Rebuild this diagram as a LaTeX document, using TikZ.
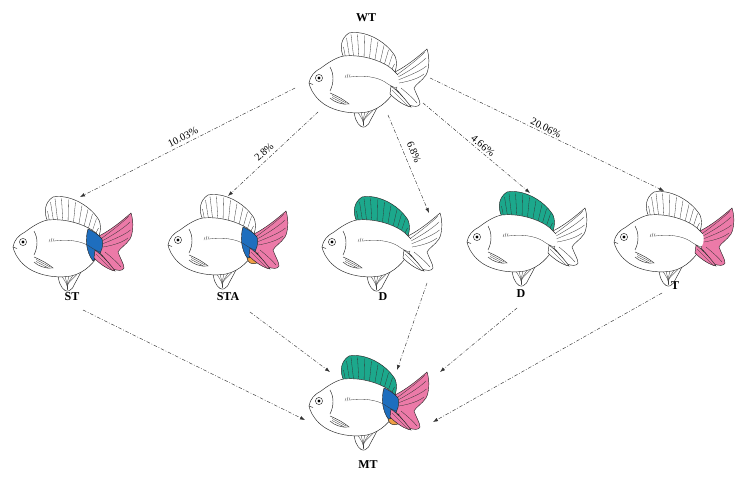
\documentclass[tikz,border=0pt]{standalone}
\usepackage{fontspec}
\setmainfont{Liberation Serif}
\usetikzlibrary{arrows.meta}
\definecolor{fgreen}{RGB}{28,168,140}
\definecolor{fblue}{RGB}{30,110,190}
\definecolor{fpink}{RGB}{236,122,168}
\definecolor{forange}{RGB}{240,160,70}
\tikzset{
  fishline/.style={line width=0.45pt, draw=black!85},
  rayline/.style={line width=0.3pt, draw=black!80},
  dorsalfill/.style={fill=white},
  tailfill/.style={fill=white},
  bandpaint/.style={},
  orangepaint/.style={},
  flow/.style={-{Latex[length=5pt,width=3.6pt]}, line width=0.45pt,
    dash pattern=on 3.5pt off 1.8pt on 0.8pt off 1.8pt, draw=black!80},
  fishlab/.style={font=\fontsize{12}{12}\selectfont\bfseries, inner sep=0pt},
  pctlab/.style={font=\fontsize{10.5}{10.5}\selectfont, inner sep=0pt},
  pics/fish/.style={code={
    % pelvic fin (fan narrowing downwards)
    \draw[fishline,fill=white] (35,31) .. controls (35,39) and (38,46) .. (42,48.5)
       .. controls (45,50) and (48,48.5) .. (49.5,46) .. controls (52,41) and (55,36) .. (58,30) -- cycle;
    \foreach \c/\d in {38/33, 42/34, 46/34, 50/33.5, 54/32.5}
      \draw[rayline] (44.5,47.5) .. controls (44,42) .. (\c,\d);
    % dorsal fin
    \draw[fishline,dorsalfill] (25,-20) .. controls (20,-30) and (22,-40) .. (30,-45)
       .. controls (45,-48) and (66,-38) .. (76,-22) .. controls (78,-17) and (78,-12) .. (76,-6) -- cycle;
    \foreach \a/\b/\c/\d in {27/-18/24.5/-31, 31/-18/27.5/-40, 35/-18/32/-43.5, 40/-18/38.5/-43.7,
       45/-17/45.5/-42.5, 50/-15/52.5/-40, 55/-13/59/-36.5, 60/-11/65/-32.5, 64/-9/69.5/-28,
       68/-7/73.5/-23.5, 71/-5/75.5/-14}
      \draw[rayline] (\a,\b) -- (\c,\d);
    % tail
    \draw[fishline,tailfill] (76,-6) .. controls (88,-12) and (100,-22) .. (108,-29)
       .. controls (111,-20) and (110,-8) .. (107,-3) .. controls (103,3) and (97,6) .. (95,10)
       .. controls (97,16) and (101,22) .. (101,26) .. controls (100,29) and (95,29) .. (90,27)
       .. controls (85,20) and (80,14) .. (76,10) -- cycle;
    \draw[rayline] (79,-4) .. controls (90,-12) and (100,-20) .. (106,-26);
    \draw[rayline] (79,-1) .. controls (92,-8) and (102,-15) .. (107,-20);
    \draw[rayline] (79,2) .. controls (92,-3) and (103,-8) .. (107.5,-12);
    \draw[rayline] (80,5) .. controls (92,3) and (100,0) .. (105,-4);
    \draw[rayline] (82,10) .. controls (88,15) and (94,20) .. (98,25);
    % body
    \fill[white] (-10,5) .. controls (-9,-2) and (-4,-7) .. (2,-10)
       .. controls (10,-16) and (18,-21) .. (25,-22) .. controls (45,-24) and (65,-16) .. (73,-9)
       .. controls (76,-6) and (78,-4) .. (79,-3) .. controls (80,1) and (80,5) .. (78,9)
       .. controls (72,20) and (62,31) .. (48,34) .. controls (30,37) and (10,32) .. (0,22)
       .. controls (-6,16) and (-9,10) .. (-10,5) -- cycle;
    \draw[fishline] (79,-3) .. controls (78,-4) and (76,-6) .. (73,-9)
       .. controls (65,-16) and (45,-24) .. (25,-22) .. controls (18,-21) and (10,-16) .. (2,-10)
       .. controls (-4,-7) and (-9,-2) .. (-10,5) .. controls (-9,10) and (-6,16) .. (0,22)
       .. controls (10,32) and (30,37) .. (48,34) .. controls (62,31) and (72,20) .. (78,9);
    % caudal band and patch
    \path[bandpaint] (65,-13) .. controls (62,-3) and (63,10) .. (70,19)
       .. controls (74,15) and (77,12) .. (78,9) .. controls (80,5) and (80,1) .. (79,-3)
       .. controls (76,-7) and (70,-11) .. (65,-13) -- cycle;
    \path[orangepaint] (69,18) .. controls (70,23) and (74,25) .. (79,23) -- (80,13)
       .. controls (77,16) and (73,18) .. (69,18) -- cycle;
    % anal fin
    \draw[fishline,tailfill] (72,8) .. controls (80,14) and (87,22) .. (92,29)
       .. controls (86,28) and (78,23) .. (71,16) -- cycle;
    \draw[rayline] (73,12) -- (89,28);
    % head details
    \draw[fishline] (-10,5) -- (-6,6.5);
    \draw[fishline,fill=white] (0,0) circle (3.6);
    \fill[black] (0,0) circle (1.7);
    \draw[fishline] (11,-11) .. controls (15,-4) and (15,5) .. (11,13);
    \draw[fishline,fill=white] (11,15) .. controls (18,18) and (24,21) .. (30,26)
       .. controls (23,27) and (15,24) .. (11,20);
    \draw[rayline] (13,17.5) -- (27,25);
    \draw[rayline] (13,19.5) -- (25,25.8);
    % lateral line
    \draw[rayline] (31,-1) .. controls (45,-3) and (58,-1) .. (66,4) .. controls (70,7) and (74,9) .. (77,10);
    \draw[rayline] (26,0) -- (27,-3) (28,0) -- (29,-4) (30,-0.5) -- (31,-3.5);
  }}
}
\begin{document}
\begin{tikzpicture}[x=1pt,y=-1pt]
\useasboundingbox (0,0) rectangle (743,481);
\fill[white] (0,0) rectangle (743,481);

% fish
\pic at (319,78) {fish};
\pic[tailfill/.style={fill=fpink}, bandpaint/.style={fill=fblue,draw=black!85,line width=0.45pt}] at (23,242) {fish};
\pic[tailfill/.style={fill=fpink}, bandpaint/.style={fill=fblue,draw=black!85,line width=0.45pt},
     orangepaint/.style={fill=forange,draw=black!85,line width=0.45pt}] at (178,240) {fish};
\pic[dorsalfill/.style={fill=fgreen}] at (332,242) {fish};
\pic[dorsalfill/.style={fill=fgreen}] at (477,237) {fish};
\pic[tailfill/.style={fill=fpink}] at (624,237) {fish};
\pic[dorsalfill/.style={fill=fgreen}, tailfill/.style={fill=fpink},
     bandpaint/.style={fill=fblue,draw=black!85,line width=0.45pt},
     orangepaint/.style={fill=forange,draw=black!85,line width=0.45pt}] at (319,401) {fish};

% labels
\node[fishlab] (lwt) at (366,18) {WT};
\node[fishlab] (lst) at (72,297) {ST};
\node[fishlab] (lsta) at (228,297) {STA};
\node[fishlab] (ld1) at (383,297) {D};
\node[fishlab] (ld2) at (521,294) {D};
\node[fishlab] (lt) at (675,286) {T};
\node[fishlab] (lmt) at (368,465) {MT};

% connector ends
\coordinate (a1s) at (295,88);  \coordinate (a1e) at (80,197);
\coordinate (a2s) at (318,112); \coordinate (a2e) at (228,196);
\coordinate (a3s) at (388,115); \coordinate (a3e) at (429,213);
\coordinate (a4s) at (423,103); \coordinate (a4e) at (530,193);
\coordinate (a5s) at (430,78);  \coordinate (a5e) at (664,191);
\coordinate (b1s) at (83,310);  \coordinate (b1e) at (305,420);
\coordinate (b2s) at (250,312); \coordinate (b2e) at (330,372);
\coordinate (b3s) at (427,283); \coordinate (b3e) at (397,370);
\coordinate (b4s) at (517,308); \coordinate (b4e) at (440,372);
\coordinate (b5s) at (662,293); \coordinate (b5e) at (433,422);

\draw[flow] (a1s) -- (a1e);
\draw[flow] (a2s) -- (a2e);
\draw[flow] (a3s) -- (a3e);
\draw[flow] (a4s) -- (a4e);
\draw[flow] (a5s) -- (a5e);
\draw[flow] (b1s) -- (b1e);
\draw[flow] (b2s) -- (b2e);
\draw[flow] (b3s) -- (b3e);
\draw[flow] (b4s) -- (b4e);
\draw[flow] (b5s) -- (b5e);

% percentages
\node[pctlab, rotate=27] (p1) at (183,137) {10.03\%};
\node[pctlab, rotate=43] (p2) at (264,152) {2.8\%};
\node[pctlab, rotate=-67] (p3) at (414,152) {6.8\%};
\node[pctlab, rotate=-40] (p4) at (483,146) {4.66\%};
\node[pctlab, rotate=-26] (p5) at (546,128) {20.06\%};
\end{tikzpicture}
\end{document}
